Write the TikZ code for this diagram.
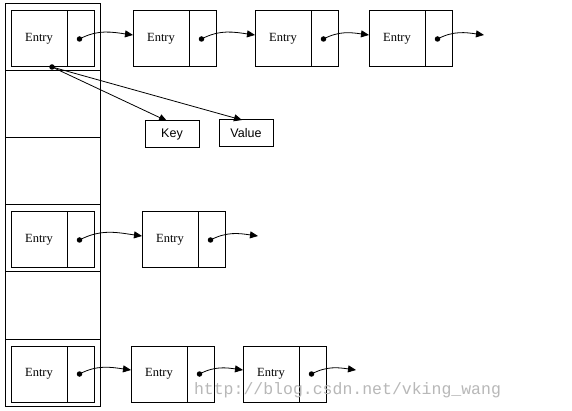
\documentclass[tikz,border=0pt]{standalone}
\usepackage{fontspec}
\setmainfont{Liberation Serif}
\newfontfamily\kvfont{Liberation Sans}
\newfontfamily\wmfont{Liberation Mono}
\usetikzlibrary{arrows.meta}
\tikzset{
  cell/.style={draw, line width=1pt, minimum width=95pt, minimum height=67pt, inner sep=0pt, outer sep=0pt},
  eleft/.style={draw, line width=1pt, minimum width=56pt, minimum height=56pt, inner sep=0pt, outer sep=0pt, anchor=west, font=\fontsize{12.5}{14}\selectfont},
  eright/.style={draw, line width=1pt, minimum width=27pt, minimum height=56pt, inner sep=0pt, outer sep=0pt, anchor=west},
  kvbox/.style={draw, line width=1pt, minimum width=54pt, minimum height=27pt, inner sep=0pt, outer sep=0pt, font=\kvfont\fontsize{12.5}{14}\selectfont},
  dotmark/.style={circle, fill=black, inner sep=0pt, minimum size=5.5pt},
  link/.style={line width=0.8pt, -{Triangle[length=8pt,width=7pt]}},
  wm/.style={text=black!28, font=\wmfont\fontsize{16.5}{18}\selectfont, inner sep=0pt}
}
\begin{document}
\begin{tikzpicture}[x=1pt,y=-1pt]
\useasboundingbox (0,0) rectangle (572,411);
\fill[white] (0,0) rectangle (572,411);
% table column
\foreach \i/\c in {1/37.5,2/104.5,3/171.5,4/238.5,5/305.5,6/372.5}{
  \node[cell] (cell\i) at (52.5,\c) {};
}
% entries: name / left x / centre y
\foreach \n/\x/\y in {a1/11/39,a2/133/39,a3/255/39,a4/369/39,
                      b1/11/240,b2/142/240,
                      c1/11/374,c2/131/374,c3/243/374}{
  \node[eleft] (\n l) at (\x,\y) {Entry};
  \node[eright] (\n r) at (\n l.east) {};
  \node[dotmark] (\n d) at ([xshift=-1pt]\n r.center) {};
}
% links between entries
\foreach \s/\t in {a1/a2,a2/a3,a3/a4,b1/b2,c1/c2,c2/c3}{
  \draw[link] (\s d.center) to[out=28,in=172] ([yshift=4pt]\t l.west);
}
% dangling ends
\coordinate (a4e) at (484,35);
\coordinate (b2e) at (258,236);
\coordinate (c3e) at (356,370);
\draw[link] (a4d.center) to[out=28,in=172] (a4e);
\draw[link] (b2d.center) to[out=28,in=172] (b2e);
\draw[link] (c3d.center) to[out=28,in=172] (c3e);
% key / value
\node[kvbox] (key) at (172,134.5) {Key};
\node[kvbox] (value) at (246,133.5) {Value};
\node[dotmark] (kv) at (52,67) {};
\draw[link] (kv.center) -- ([xshift=-5pt]key.north);
\draw[link] (kv.center) -- ([xshift=-4pt]value.north);
% watermark
\node[wm] (mark) at (347.5,390) {http://blog.csdn.net/vking\_wang};
\end{tikzpicture}
\end{document}
